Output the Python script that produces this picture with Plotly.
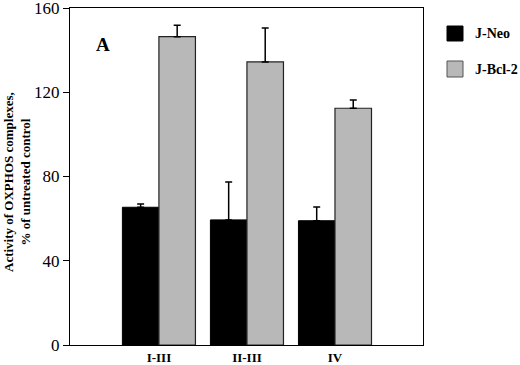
import plotly.graph_objects as go

categories = ["I-III", "II-III", "IV"]
neo_values = [65.4, 59.4, 59.0]
neo_err = [1.5, 18.0, 6.5]
bcl_values = [146.4, 134.4, 112.4]
bcl_err = [5.4, 16.1, 3.9]
series_names = ["J-Neo", "J-Bcl-2"]
y_ticks = [0, 40, 80, 120, 160]

FONT = "Liberation Serif, Times New Roman, serif"

fig = go.Figure()
fig.add_trace(go.Bar(
    x=categories, y=neo_values, name=series_names[0],
    marker=dict(color="black", line=dict(color="black", width=1)),
    error_y=dict(type="data", array=neo_err, arrayminus=[0]*3, symmetric=False,
                 color="black", thickness=1.5, width=3.5),
    showlegend=False,
))
fig.add_trace(go.Bar(
    x=categories, y=bcl_values, name=series_names[1],
    marker=dict(color="#b8b8b8", line=dict(color="#222222", width=1.2)),
    error_y=dict(type="data", array=bcl_err, arrayminus=[0]*3, symmetric=False,
                 color="black", thickness=1.5, width=3.5),
    showlegend=False,
))

# legend swatches and labels
L, R, T, B = 70, 97, 8, 20
PW, PH = 520 - L - R, 365 - T - B
def px(x): return (x - L) / PW
def py(y): return (365 - B - y) / PH

swatches = [("black", "black", 26, 41), ("#b8b8b8", "#555555", 61, 77)]
for (fc, lc, y0, y1), name in zip(swatches, series_names):
    fig.add_shape(type="rect", xref="paper", yref="paper",
                  x0=px(447), x1=px(463), y0=py(y1), y1=py(y0),
                  fillcolor=fc, line=dict(color=lc, width=1))
    fig.add_annotation(xref="paper", yref="paper", x=px(473), y=py((y0 + y1) / 2),
                       text="<b>%s</b>" % name, showarrow=False, xanchor="left",
                       yanchor="middle", font=dict(family=FONT, size=14, color="black"))

fig.add_annotation(xref="paper", yref="paper", x=px(103), y=py(44), text="<b>A</b>",
                   showarrow=False, xanchor="center", yanchor="middle",
                   font=dict(family=FONT, size=19, color="black"))

fig.add_annotation(xref="paper", yref="paper", x=px(17), y=py(182),
                   text="<b>Activity of OXPHOS complexes,<br>% of untreated control</b>",
                   textangle=-90, showarrow=False, xanchor="center", yanchor="middle",
                   font=dict(family=FONT, size=13, color="black"))

fig.update_layout(
    width=520, height=365,
    margin=dict(l=L, r=R, t=T, b=B, autoexpand=False),
    paper_bgcolor="white", plot_bgcolor="white",
    barmode="group", bargap=0.17, bargroupgap=0,
    font=dict(family=FONT, color="black"),
)
fig.update_xaxes(
    type="category", range=[-1.01, 3.0], automargin=False,
    showline=True, linecolor="black", linewidth=1.2, mirror=True,
    ticks="", showgrid=False, ticklabeloverflow="allow",
    tickfont=dict(family=FONT, size=13, color="black"),
    ticktext=["<b>%s</b>" % c for c in categories], tickvals=categories,
)
fig.update_yaxes(
    range=[0, 160], tickvals=y_ticks, automargin=False,
    showline=True, linecolor="black", linewidth=1.2, mirror=True,
    ticks="outside", ticklen=6, tickcolor="black", showgrid=False, zeroline=False,
    ticklabeloverflow="allow",
    tickfont=dict(family=FONT, size=17, color="black"),
)

fig.write_html("out.html", config={"displayModeBar": False},
               post_script="document.body.style.margin='0';document.body.style.overflow='hidden';")
